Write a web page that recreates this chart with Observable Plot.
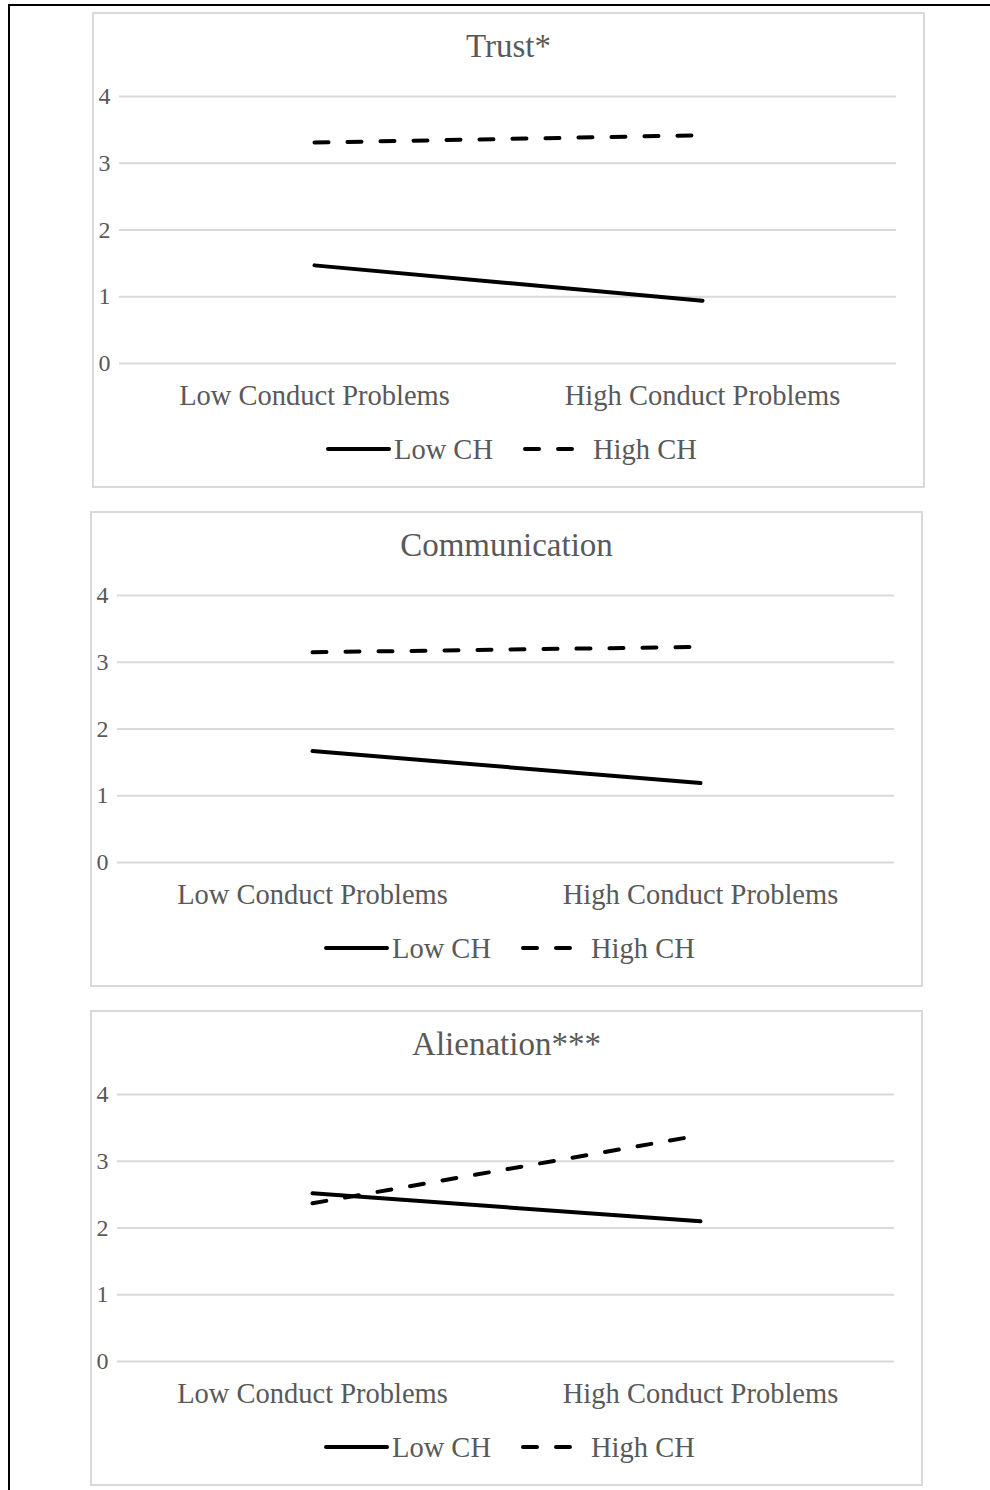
<!DOCTYPE html>
<html>
<head>
<meta charset="utf-8">
<script src="https://cdn.jsdelivr.net/npm/d3@7"></script>
<script src="https://cdn.jsdelivr.net/npm/@observablehq/plot@0.6"></script>
<style>
  html, body { margin: 0; padding: 0; background: #fff; width: 990px; height: 1490px; overflow: hidden; }
  body { position: relative; font-family: "Liberation Serif", "Times New Roman", serif; }
  .outer { position: absolute; left: 8px; top: 4px; width: 1200px; height: 1700px; border: 2px solid #000; box-sizing: border-box; }
  .panel { position: absolute; width: 833px; height: 476px; }
  .frame { position: absolute; left: 0; top: 0; right: 0; bottom: 0; border: 2px solid #d9d9d9; box-sizing: border-box; }
  .panel svg.plot { position: absolute; left: 0; top: 0; }
  .title { position: absolute; left: 0; width: 100%; text-align: center; color: #595959; font-size: 33px; line-height: 33px; top: 18px; }
  .legend { position: absolute; left: 0; top: 417px; }
</style>
</head>
<body>
<div class="outer"></div>
<div id="root"></div>
<script>
// ---- data ----
const categories = ["Low Conduct Problems", "High Conduct Problems"];
const seriesNames = ["Low CH", "High CH"];
const panelTitles = ["Trust*", "Communication", "Alienation***"];
const yTicks = [0, 1, 2, 3, 4];

const trustLowCH = [1.47, 0.94];
const trustHighCH = [3.31, 3.42];
const communicationLowCH = [1.67, 1.19];
const communicationHighCH = [3.15, 3.23];
const alienationLowCH = [2.52, 2.10];
const alienationHighCH = [2.37, 3.39];

const panelValues = [
  [trustLowCH, trustHighCH],
  [communicationLowCH, communicationHighCH],
  [alienationLowCH, alienationHighCH]
];

// ---- layout ----
const panelPos = [
  {left: 92, top: 12},
  {left: 90, top: 511},
  {left: 90, top: 1010}
];
const textColor = "#595959";
const gridColor = "#d9d9d9";
const fontFamily = '"Liberation Serif", "Times New Roman", serif';

const root = document.getElementById("root");

panelTitles.forEach((title, i) => {
  const [lowVals, highVals] = panelValues[i];
  const rows = [];
  categories.forEach((c, j) => {
    rows.push({category: c, series: seriesNames[0], value: lowVals[j]});
    rows.push({category: c, series: seriesNames[1], value: highVals[j]});
  });

  const panel = document.createElement("div");
  panel.className = "panel";
  panel.style.left = panelPos[i].left + "px";
  panel.style.top = panelPos[i].top + "px";

  const frame = document.createElement("div");
  frame.className = "frame";
  panel.appendChild(frame);

  const chart = Plot.plot({
    width: 833,
    height: 411,
    marginLeft: 27,
    marginRight: 29,
    marginTop: 84,
    marginBottom: 60,
    style: {background: "transparent", fontFamily: fontFamily, color: textColor, overflow: "visible"},
    x: {type: "point", domain: categories, padding: 0.5},
    y: {domain: [0, 4]},
    marks: [
      Plot.gridY(yTicks, {stroke: gridColor, strokeOpacity: 1, strokeWidth: 2}),
      Plot.axisY(yTicks, {tickSize: 0, tickPadding: 9, fontSize: 24, fill: textColor, label: null, tickFormat: d3.format("d")}),
      Plot.axisX({tickSize: 0, tickPadding: 21, fontSize: 28.5, fill: textColor, label: null}),
      Plot.line(rows.filter(d => d.series === seriesNames[0]), {
        x: "category", y: "value", stroke: "#000", strokeWidth: 4, strokeLinecap: "round"
      }),
      Plot.line(rows.filter(d => d.series === seriesNames[1]), {
        x: "category", y: "value", stroke: "#000", strokeWidth: 4, strokeLinecap: "round",
        strokeDasharray: "14,19"
      })
    ]
  });
  chart.classList.add("plot");
  panel.appendChild(chart);

  const t = document.createElement("div");
  t.className = "title";
  t.textContent = title;
  panel.appendChild(t);

  // legend
  const ns = "http://www.w3.org/2000/svg";
  const leg = document.createElementNS(ns, "svg");
  leg.setAttribute("class", "legend");
  leg.setAttribute("width", 833);
  leg.setAttribute("height", 40);
  const cy = 20;
  const items = [
    {x1: 236, x2: 297, tx: 302, dash: null, label: seriesNames[0]},
    {x1: 433, x2: 484, tx: 501, dash: "14,19", label: seriesNames[1]}
  ];
  items.forEach(it => {
    const ln = document.createElementNS(ns, "line");
    ln.setAttribute("x1", it.x1); ln.setAttribute("x2", it.x2);
    ln.setAttribute("y1", cy); ln.setAttribute("y2", cy);
    ln.setAttribute("stroke", "#000"); ln.setAttribute("stroke-width", 4);
    ln.setAttribute("stroke-linecap", "round");
    if (it.dash) ln.setAttribute("stroke-dasharray", it.dash);
    leg.appendChild(ln);
    const tx = document.createElementNS(ns, "text");
    tx.setAttribute("x", it.tx); tx.setAttribute("y", cy);
    tx.setAttribute("dy", "0.35em");
    tx.setAttribute("fill", textColor);
    tx.setAttribute("font-size", 28.5);
    tx.setAttribute("font-family", fontFamily);
    tx.textContent = it.label;
    leg.appendChild(tx);
  });
  panel.appendChild(leg);

  root.appendChild(panel);
});
</script>
</body>
</html>
